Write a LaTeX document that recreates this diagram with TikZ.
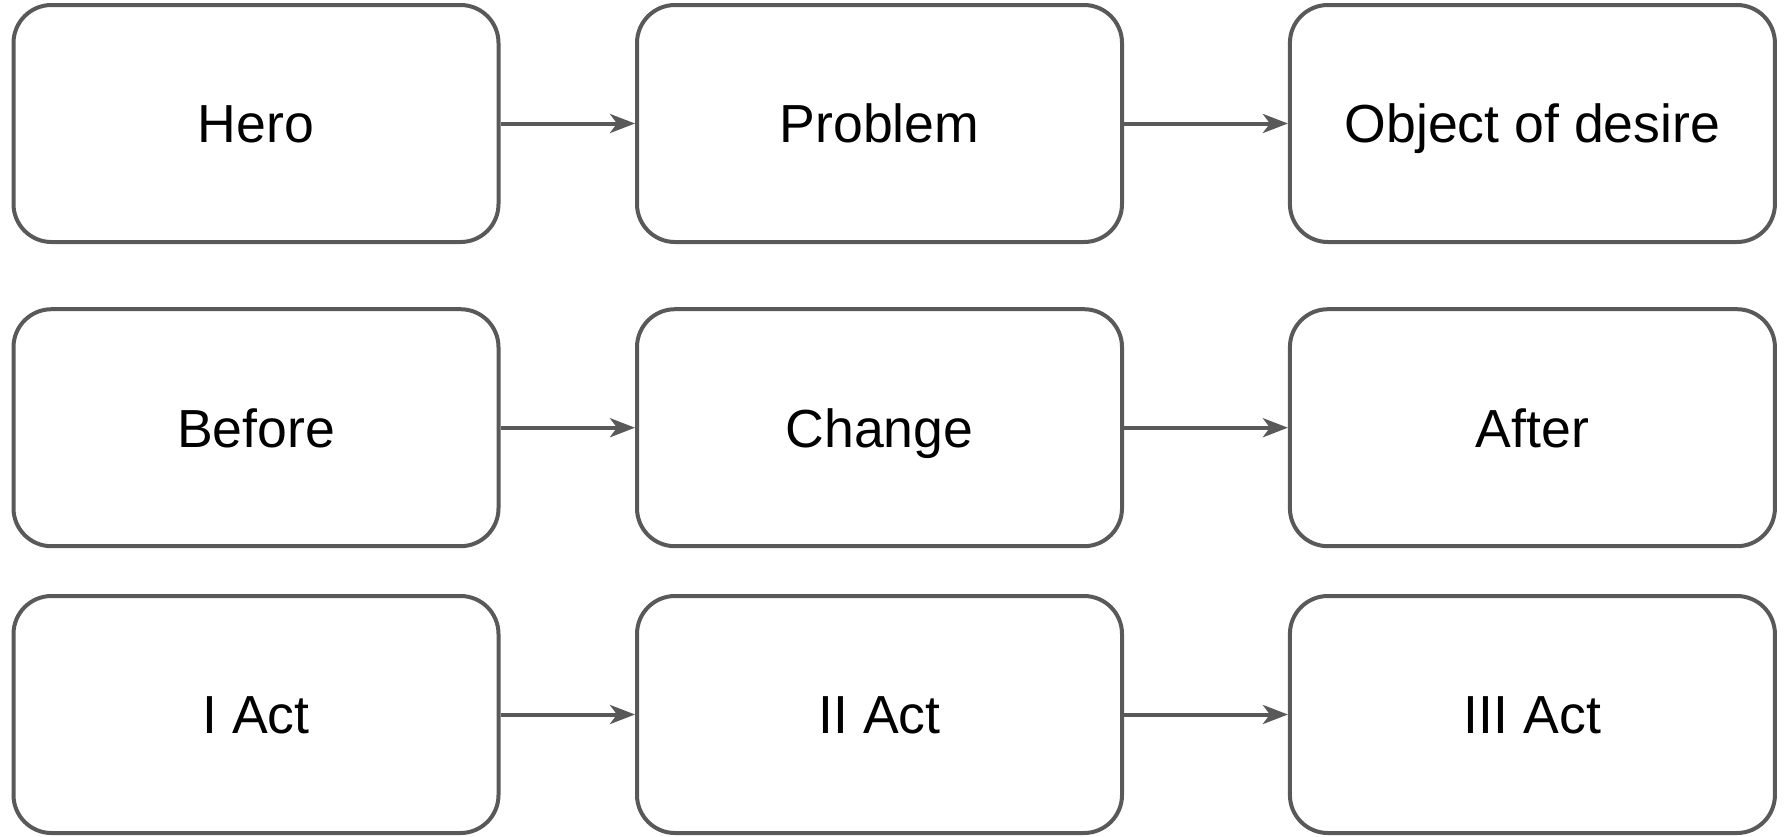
\documentclass[tikz,border=0pt]{standalone}
\usepackage{fontspec}
\setmainfont{Liberation Sans}
\usetikzlibrary{arrows.meta}
\definecolor{edgegray}{HTML}{595959}
\begin{document}
\begin{tikzpicture}[x=0.5pt,y=-0.5pt,
  box/.style={draw=edgegray, line width=2pt, rounded corners=19pt,
    minimum width=242.5pt, minimum height=118.5pt, inner sep=0pt,
    font=\fontsize{26.8}{30}\selectfont, text=black,
    text height=19.3pt, text depth=0pt},
  conn/.style={draw=edgegray, line width=2pt,
    -{Stealth[length=12.5pt,width=9.5pt,inset=3.5pt]}}]
\useasboundingbox (0,0) rectangle (1786,836);
\node[box] (hero)    at (256,123.5)   {Hero};
\node[box] (problem) at (879.5,123.5) {Problem};
\node[box] (object)  at (1532.4,123.5){Object of desire};
\node[box] (before)  at (256,427.7)   {Before};
\node[box] (change)  at (879.5,427.7) {Change};
\node[box] (after)   at (1532.4,427.7){After};
\node[box] (act1)    at (256,714.5)   {I Act};
\node[box] (act2)    at (879.5,714.5) {II Act};
\node[box] (act3)    at (1532.4,714.5){III Act};
\draw[conn] (hero) -- (problem);
\draw[conn] (problem) -- (object);
\draw[conn] (before) -- (change);
\draw[conn] (change) -- (after);
\draw[conn] (act1) -- (act2);
\draw[conn] (act2) -- (act3);
\end{tikzpicture}
\end{document}
